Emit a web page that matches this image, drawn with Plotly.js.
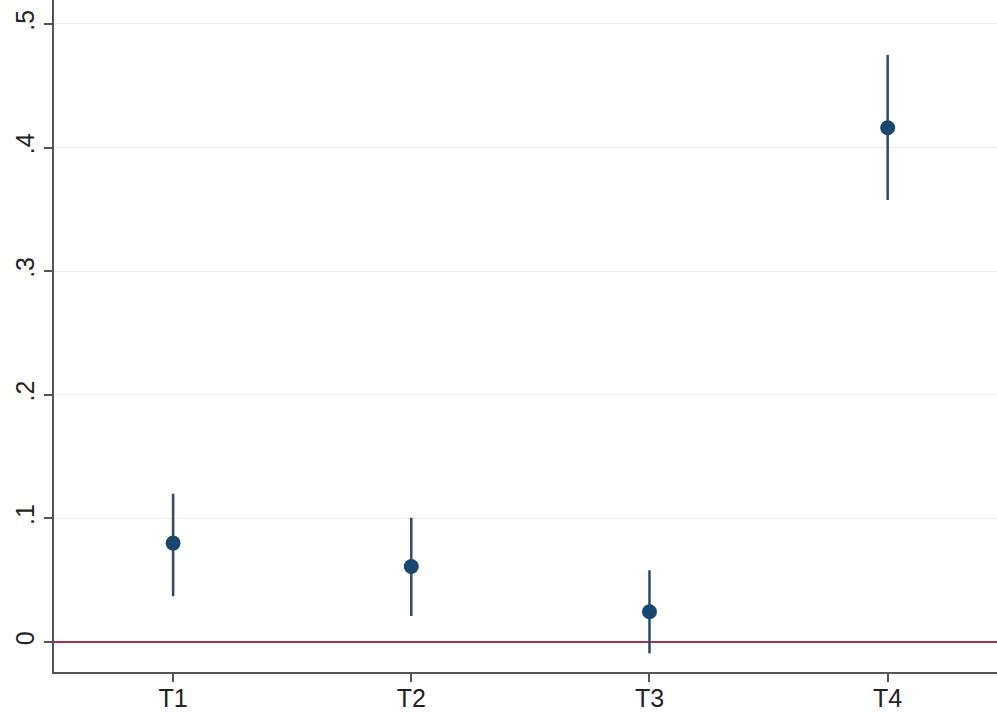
<!DOCTYPE html>
<html>
<head>
<meta charset="utf-8">
<script src="https://cdn.plot.ly/plotly-3.0.1.min.js"></script>
<style>html,body{margin:0;padding:0;background:#fff;}#chart{width:997px;height:712px;}</style>
</head>
<body>
<div id="chart"></div>
<script>
const categories = [1, 2, 3, 4];
const categoryLabels = ["T1", "T2", "T3", "T4"];
const estimates = [0.080, 0.061, 0.0245, 0.416];
const upperCI = [0.120, 0.1005, 0.058, 0.475];
const lowerCI = [0.037, 0.021, -0.0092, 0.3576];
const yTickVals = [0, 0.1, 0.2, 0.3, 0.4, 0.5];
const yTickText = ["0", ".1", ".2", ".3", ".4", ".5"];

const errPlus = estimates.map((v, i) => upperCI[i] - v);
const errMinus = estimates.map((v, i) => v - lowerCI[i]);

const trace = {
  x: categories,
  y: estimates,
  type: 'scatter',
  mode: 'markers',
  marker: {color: '#1a476f', size: 15},
  error_y: {type: 'data', symmetric: false, array: errPlus, arrayminus: errMinus,
            color: '#2b4a6b', thickness: 2.5, width: 0},
  showlegend: false,
  hoverinfo: 'skip'
};

const tickFont = {family: '"Liberation Sans Narrow", "Liberation Sans", Arial, sans-serif', size: 25, color: '#222'};

const layout = {
  width: 997, height: 712,
  margin: {l: 54, r: 0, t: 0, b: 40},
  paper_bgcolor: '#ffffff',
  plot_bgcolor: '#ffffff',
  font: tickFont,
  xaxis: {
    range: [0.5, 4.459],
    tickvals: categories, ticktext: categoryLabels,
    showgrid: false, zeroline: false,
    showline: true, linecolor: '#555', linewidth: 2,
    ticks: 'outside', ticklen: 8, tickwidth: 2, tickcolor: '#555',
    ticklabelstandoff: -5,
    tickfont: tickFont
  },
  yaxis: {
    range: [-0.0243, 0.5194],
    tickvals: yTickVals, ticktext: yTickText,
    tickangle: -90,
    showgrid: true, gridcolor: '#ececec', gridwidth: 1,
    zeroline: true, zerolinecolor: '#a8324f', zerolinewidth: 2,
    showline: true, linecolor: '#555', linewidth: 2,
    ticks: 'outside', ticklen: 8, tickwidth: 2, tickcolor: '#555',
    tickfont: tickFont
  }
};

Plotly.newPlot('chart', [trace], layout, {displayModeBar: false, staticPlot: true});
</script>
</body>
</html>
